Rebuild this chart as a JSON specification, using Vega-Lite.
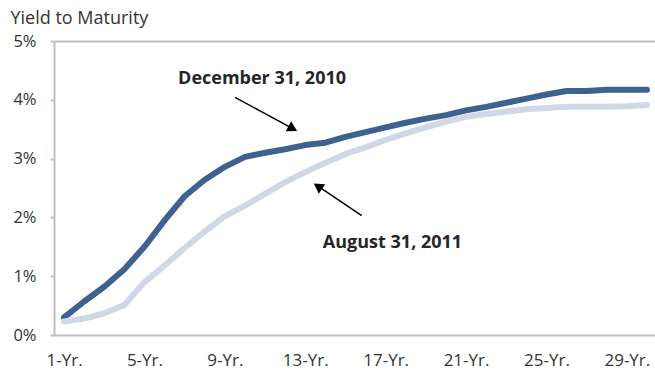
{
  "$schema": "https://vega.github.io/schema/vega-lite/v6.json",
  "width": 601,
  "height": 294,
  "autosize": {"type": "none"},
  "padding": {"left": 54, "top": 41, "right": 0, "bottom": 40},
  "background": "white",
  "config": {
    "view": {"stroke": null},
    "font": "Open Sans",
    "axis": {"labelFont": "Open Sans", "titleFont": "Open Sans"}
  },
  "datasets": {
    "curves": [
      {"year": 1, "series": "December 31, 2010", "yield": 0.3},
      {"year": 2, "series": "December 31, 2010", "yield": 0.57},
      {"year": 3, "series": "December 31, 2010", "yield": 0.82},
      {"year": 4, "series": "December 31, 2010", "yield": 1.12},
      {"year": 5, "series": "December 31, 2010", "yield": 1.5},
      {"year": 6, "series": "December 31, 2010", "yield": 1.95},
      {"year": 7, "series": "December 31, 2010", "yield": 2.36},
      {"year": 8, "series": "December 31, 2010", "yield": 2.64},
      {"year": 9, "series": "December 31, 2010", "yield": 2.86},
      {"year": 10, "series": "December 31, 2010", "yield": 3.03},
      {"year": 11, "series": "December 31, 2010", "yield": 3.1},
      {"year": 12, "series": "December 31, 2010", "yield": 3.16},
      {"year": 13, "series": "December 31, 2010", "yield": 3.23},
      {"year": 14, "series": "December 31, 2010", "yield": 3.27},
      {"year": 15, "series": "December 31, 2010", "yield": 3.37},
      {"year": 16, "series": "December 31, 2010", "yield": 3.45},
      {"year": 17, "series": "December 31, 2010", "yield": 3.53},
      {"year": 18, "series": "December 31, 2010", "yield": 3.61},
      {"year": 19, "series": "December 31, 2010", "yield": 3.68},
      {"year": 20, "series": "December 31, 2010", "yield": 3.74},
      {"year": 21, "series": "December 31, 2010", "yield": 3.82},
      {"year": 22, "series": "December 31, 2010", "yield": 3.88},
      {"year": 23, "series": "December 31, 2010", "yield": 3.95},
      {"year": 24, "series": "December 31, 2010", "yield": 4.02},
      {"year": 25, "series": "December 31, 2010", "yield": 4.09},
      {"year": 26, "series": "December 31, 2010", "yield": 4.15},
      {"year": 27, "series": "December 31, 2010", "yield": 4.15},
      {"year": 28, "series": "December 31, 2010", "yield": 4.17},
      {"year": 29, "series": "December 31, 2010", "yield": 4.17},
      {"year": 30, "series": "December 31, 2010", "yield": 4.17},
      {"year": 1, "series": "August 31, 2011", "yield": 0.23},
      {"year": 2, "series": "August 31, 2011", "yield": 0.28},
      {"year": 3, "series": "August 31, 2011", "yield": 0.37},
      {"year": 4, "series": "August 31, 2011", "yield": 0.51},
      {"year": 5, "series": "August 31, 2011", "yield": 0.9},
      {"year": 6, "series": "August 31, 2011", "yield": 1.18},
      {"year": 7, "series": "August 31, 2011", "yield": 1.48},
      {"year": 8, "series": "August 31, 2011", "yield": 1.76},
      {"year": 9, "series": "August 31, 2011", "yield": 2.02},
      {"year": 10, "series": "August 31, 2011", "yield": 2.2},
      {"year": 11, "series": "August 31, 2011", "yield": 2.4},
      {"year": 12, "series": "August 31, 2011", "yield": 2.6},
      {"year": 13, "series": "August 31, 2011", "yield": 2.77},
      {"year": 14, "series": "August 31, 2011", "yield": 2.93},
      {"year": 15, "series": "August 31, 2011", "yield": 3.08},
      {"year": 16, "series": "August 31, 2011", "yield": 3.19},
      {"year": 17, "series": "August 31, 2011", "yield": 3.32},
      {"year": 18, "series": "August 31, 2011", "yield": 3.43},
      {"year": 19, "series": "August 31, 2011", "yield": 3.53},
      {"year": 20, "series": "August 31, 2011", "yield": 3.63},
      {"year": 21, "series": "August 31, 2011", "yield": 3.71},
      {"year": 22, "series": "August 31, 2011", "yield": 3.76},
      {"year": 23, "series": "August 31, 2011", "yield": 3.8},
      {"year": 24, "series": "August 31, 2011", "yield": 3.84},
      {"year": 25, "series": "August 31, 2011", "yield": 3.86},
      {"year": 26, "series": "August 31, 2011", "yield": 3.88},
      {"year": 27, "series": "August 31, 2011", "yield": 3.88},
      {"year": 28, "series": "August 31, 2011", "yield": 3.88},
      {"year": 29, "series": "August 31, 2011", "yield": 3.89},
      {"year": 30, "series": "August 31, 2011", "yield": 3.91}
    ],
    "arrows": [
      {"label": "December 31, 2010", "x": 9.51, "y": 4.04, "x2": 12.38, "y2": 3.51, "angle": 118},
      {"label": "August 31, 2011", "x": 15.81, "y": 2.03, "x2": 13.63, "y2": 2.53, "angle": 304}
    ],
    "labels": [
      {"label": "December 31, 2010", "x": 10.85, "y": 4.27},
      {"label": "August 31, 2011", "x": 17.34, "y": 1.48}
    ]
  },
  "layer": [
    {
      "data": {"name": "curves"},
      "mark": {"type": "line", "strokeWidth": 6, "strokeCap": "round", "strokeJoin": "round"},
      "encoding": {
        "x": {
          "field": "year", "type": "quantitative",
          "scale": {"domain": [0.5, 30.4], "zero": false, "nice": false},
          "axis": {
            "values": [1, 5, 9, 13, 17, 21, 25, 29],
            "labelExpr": "datum.value + '-Yr.'",
            "title": null,
            "grid": false,
            "ticks": false,
            "domainColor": "#BFBFBF",
            "domainWidth": 2,
            "labelFontSize": 17,
            "labelColor": "#333333",
            "labelPadding": 17,
            "labelFlush": false
          }
        },
        "y": {
          "field": "yield", "type": "quantitative",
          "scale": {"domain": [0, 5], "nice": false},
          "axis": {
            "values": [0, 1, 2, 3, 4, 5],
            "labelExpr": "datum.value + '%'",
            "title": "Yield to Maturity",
            "titleAngle": 0,
            "titleAlign": "left",
            "titleBaseline": "alphabetic",
            "titleX": -44,
            "titleY": -18,
            "titleFontSize": 18,
            "titleFontWeight": "normal",
            "titleColor": "#333333",
            "grid": true,
            "gridColor": "#BFBFBF",
            "gridWidth": 2,
            "gridOpacity": {"condition": {"test": "datum.value === 5", "value": 1}, "value": 0},
            "ticks": true,
            "tickSize": 4,
            "tickColor": "#BFBFBF",
            "tickWidth": 2,
            "domainColor": "#BFBFBF",
            "domainWidth": 2,
            "labelFontSize": 16.5,
            "labelColor": "#333333",
            "labelPadding": 14
          }
        },
        "color": {
          "field": "series", "type": "nominal",
          "scale": {"domain": ["August 31, 2011", "December 31, 2010"], "range": ["#D0D8E6", "#3F6190"]},
          "legend": null
        }
      }
    },
    {
      "data": {"name": "arrows"},
      "mark": {"type": "rule", "color": "#000000", "strokeWidth": 1.5},
      "encoding": {
        "x": {"field": "x", "type": "quantitative"},
        "y": {"field": "y", "type": "quantitative"},
        "x2": {"field": "x2"},
        "y2": {"field": "y2"}
      }
    },
    {
      "data": {"name": "arrows"},
      "mark": {"type": "point", "shape": "triangle-up", "filled": true, "color": "#000000", "opacity": 1, "size": 130},
      "encoding": {
        "x": {"field": "x2", "type": "quantitative"},
        "y": {"field": "y2", "type": "quantitative"},
        "angle": {"field": "angle", "type": "quantitative", "scale": null}
      }
    },
    {
      "data": {"name": "labels"},
      "mark": {"type": "text", "font": "Open Sans", "fontWeight": "bold", "fontSize": 18, "color": "#262626", "align": "center", "baseline": "alphabetic"},
      "encoding": {
        "x": {"field": "x", "type": "quantitative"},
        "y": {"field": "y", "type": "quantitative"},
        "text": {"field": "label"}
      }
    }
  ]
}
